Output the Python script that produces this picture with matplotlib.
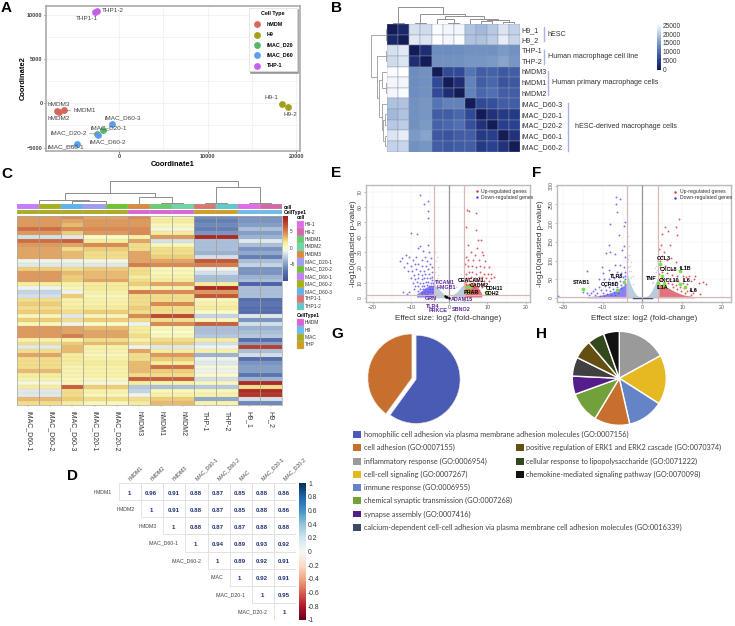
import matplotlib
matplotlib.use("Agg")
import matplotlib.pyplot as plt
import numpy as np
from matplotlib.cm import ScalarMappable
from matplotlib.colors import LinearSegmentedColormap, Normalize
from matplotlib.patches import Rectangle

plt.rcParams["font.family"] = ["Liberation Sans", "DejaVu Sans"]

W, H = 735, 626

# --- panel A
mds_names = ["THP1-1", "THP1-2", "hMDM3", "hMDM2", "hMDM1", "H9-1", "H9-2", "iMAC_D60-3",
             "iMAC_D20-1", "iMAC_D60-2", "iMAC_D20-2", "iMAC_D60-1"]
mds_x = [-2650, -2500, -6955, -6800, -6165, 18380, 19060, -750, -1800, -2330, -2480, -4700]
mds_y = [10250, 10350, -865, -980, -790, -40, -450, -2290, -3045, -3570, -3460, -4620]
mds_type = ["THP-1", "THP-1", "hMDM", "hMDM", "hMDM", "H9", "H9", "iMAC_D60", "iMAC_D20",
            "iMAC_D60", "iMAC_D20", "iMAC_D60"]
mds_label_x = [-3650, -714, -6800, -6800, -3870, 17220, 19290, 410, -1130, -1200, -5710, -5980]
mds_label_y = [9510, 10490, -150, -1690, -790, 600, -1240, -1690, -2780, -4290, -3310, -4920]
type_names = ["hMDM", "H9", "iMAC_D20", "iMAC_D60", "THP-1"]
type_colors = ["#d9675d", "#a3a017", "#57b76a", "#5b9ff0", "#c95ff0"]

# --- panel B
dist_labels = ["H9_1", "H9_2", "THP-1", "THP-2", "hMDM3", "hMDM1", "hMDM2", "iMAC_D60-3",
               "iMAC_D20-1", "iMAC_D20-2", "iMAC_D60-1", "iMAC_D60-2"]
dist_upper = [
    [0, 1500, 21500, 21000, 24500, 24000, 24000, 18500, 17500, 19000, 22000, 20000],
    [0, 22500, 22000, 25000, 24000, 24500, 18500, 18500, 19500, 23000, 20500],
    [0, 2500, 13000, 13000, 13000, 13500, 13500, 13500, 14500, 13500],
    [0, 13500, 13500, 13500, 14000, 14000, 14500, 15500, 14000],
    [0, 6000, 6000, 10500, 8000, 8500, 7500, 8000],
    [0, 2500, 12000, 8000, 9000, 7000, 7500],
    [0, 12000, 9000, 10000, 8000, 8000],
    [0, 6000, 6500, 8000, 8000],
    [0, 3000, 4000, 4000],
    [0, 4500, 5000],
    [0, 3000],
    [0],
]
# each merge: left pos, left height, right pos, right height, merge height
dist_tree = [
    (0.5, 0, 1.5, 0, 4), (2.5, 0, 3.5, 0, 4), (5.5, 0, 6.5, 0, 4), (4.5, 0, 6.0, 4, 15),
    (8.5, 0, 9.5, 0, 8), (10.5, 0, 11.5, 0, 6), (9.0, 8, 11.0, 6, 12), (7.5, 0, 10.0, 12, 15),
    (5.25, 15, 8.75, 15, 24), (3.0, 4, 7.0, 24, 30), (1.0, 4, 5.0, 30, 50),
]

# --- panel C, one value per column group
heat_cols = ["iMAC_D60-1", "iMAC_D60-2", "iMAC_D60-3", "iMAC_D20-1", "iMAC_D20-2", "hMDM3",
             "hMDM1", "hMDM2", "THP-1", "THP-2", "H9_1", "H9_2"]
heat_group_sizes = [2, 1, 2, 1, 2, 2, 2]
heat_rows = [
    [4, 4.5, 3.5, 4.5, 1, -6, -5.5], [4, 3.5, 4, 4, 1.5, -6.5, -5.5], [4, 3, 4, 4, 0.5, -6, -5],
    [5.5, 4.5, 4.5, 4.5, -0.5, -6.5, -3.5], [4, 2.5, 4, 4.5, 1.5, -5.5, -5],
    [-2, -1.5, 0, 1, 4, 8.5, -4], [5.5, 6, 1.5, 3.5, -2, -3.5, -1.5],
    [4, 3.5, 4.5, 2, 0.5, -3.5, -3.5], [3.5, 2, 2.5, 2, 2, -3.5, -5.5],
    [3.5, 3, 2, 3.5, 2, -4, -4.5], [3.5, 3, 2, 3.5, 2.5, -2, -6.5],
    [-1, -1, -0.5, 3.5, 3.5, 6.5, -3.5], [-1.5, -1.5, -1.5, 5, 4.5, 5, -2.5],
    [2.5, 2, 2.5, 2, 0.5, -1, -5.5], [4, 3, 3, 2, 0.5, -2, -5.5],
    [4, 2.5, 3, 1.5, 1, -3.5, -4], [4, 2.5, 3.5, 2, 1.5, -3.5, -3.5],
    [1.5, 1, 1.5, 2.5, 3.5, 1.5, -8.5], [-1, 0.5, 1.5, 1, 1, 8.5, -3.5],
    [-2.5, -1, 1, 5, 4.5, 4, -3.5], [-2, 2.5, 0.5, 2, 2, 6.5, -3.5],
    [2, 1, 1, 2, 2, 0.5, -7.5], [2.5, 1, 1, 2, 4.5, 1, -7], [2, 1.5, 1.5, 2.5, 2, 1.5, -7.5],
    [2.5, 2, 2.5, 2, 2, 0, -7.5], [0.5, -1.5, 0.5, 4.5, 7, -2.5, -1.5],
    [2.5, 2, 2.5, 2, 2, 0.5, -5.5], [0.5, -1, 0, -1, 4.5, 6, -2],
    [4, 3.5, 3, 1.5, 0.5, -3.5, -4], [4, 3.5, 3.5, 1.5, 0, -3.5, -3.5],
    [4, 5, 3.5, 2, 0.5, -3, -3], [1, 1, 2, 1, 2, 1.5, -7.5], [2, 2.5, 3, 2, 2.5, -2, -5],
    [-1.5, 3, 1, -1, -1.5, -1, 7.5], [2, 3, 1, 3.5, 1.5, 1, -3.5], [3.5, 1.5, 0.5, 2, 4, -4, -2],
    [2, 1.5, 1, 2, 2.5, -1, -7.5], [2, 1.5, 1.5, 3, 1.5, -1.5, -5.5],
    [2, 0.8, 1, 3, 5.5, -0.5, -5], [3, 0.8, 1, 3, 2.5, -1, -5], [1.5, 0.8, 1, 2, 2, 0, -7],
    [1, 0.5, 0.5, 6, 6, -2, -4], [-0.5, 0.5, -0.5, 1.5, 1, 0.5, 8.5], [1.5, 6, 2.5, -3, -3.5, -3, 2],
    [-1.5, 2, 1, -2.5, 0.5, 0.5, 8.5], [-1.5, 2, 0.5, -1, 1, 1, 8], [3, 2.5, 2, 2, 2.5, -4.5, -2],
    [2, 1.5, 0.5, 1.5, 3, 1, -6],
]
cell_colors = ["#c77cff", "#a3b218", "#5fb2f2", "#a09cf5", "#6cc530", "#d98a3c",
               "#68cc70", "#6fd6a8", "#d9766f", "#60c9cc", "#e36bea", "#d666a8"]
celltype_colors = ["#adac1c"] * 5 + ["#e060d8"] * 3 + ["#cf9f1e"] * 2 + ["#68bef0"] * 2
heat_tree = [
    (0.5, 0, 1.5, 0, 2), (3.5, 0, 4.5, 0, 2), (2.5, 0, 4.0, 2, 10), (1.0, 2, 3.25, 10, 14),
    (6.5, 0, 7.5, 0, 3), (5.5, 0, 7.0, 3, 21), (2.14, 14, 6.25, 21, 33),
    (8.5, 0, 9.5, 0, 3), (10.5, 0, 11.5, 0, 3), (9.0, 3, 11.0, 3, 51), (4.18, 33, 10.0, 51, 69),
]
cell_legend = ["H9-1", "H9-2", "hMDM1", "hMDM2", "hMDM3", "iMAC_D20-1", "iMAC_D20-2",
               "iMAC_D60-1", "iMAC_D60-2", "iMAC_D60-3", "THP1-1", "THP1-2"]
cell_legend_colors = ["#e36bea", "#d666a8", "#68cc70", "#6fd6a8", "#d98a3c", "#a09cf5",
                      "#6cc530", "#c77cff", "#a3b218", "#5fb2f2", "#d9766f", "#60c9cc"]
celltype_legend = ["hMDM", "H9", "iMAC", "THP"]
celltype_legend_colors = ["#e060d8", "#68bef0", "#adac1c", "#cf9f1e"]

# --- panel D
corr_labels = ["hMDM1", "hMDM2", "hMDM3", "iMAC_D60-1", "iMAC_D60-2", "iMAC", "iMAC_D20-1", "iMAC_D20-2"]
corr_upper = [
    [1, 0.96, 0.91, 0.88, 0.87, 0.85, 0.88, 0.86],
    [1, 0.91, 0.88, 0.87, 0.85, 0.88, 0.86],
    [1, 0.88, 0.87, 0.87, 0.88, 0.88],
    [1, 0.94, 0.89, 0.93, 0.92],
    [1, 0.89, 0.92, 0.91],
    [1, 0.92, 0.91],
    [1, 0.95],
    [1],
]

# --- panel E
e_down = [(-7.6, 68), (-5.5, 64), (-6.5, 62), (-5.5, 57), (-5.6, 53), (-10, 43), (-8.5, 42), (-7.6, 34),
          (-5.5, 35), (-8, 33), (-6.8, 31), (-5.2, 30), (-11.3, 28), (-12.2, 26), (-10.5, 27), (-12.8, 24),
          (-9.5, 25), (-8.7, 27), (-7.2, 25), (-6.4, 27), (-5.8, 24), (-4.8, 26), (-11, 23), (-10, 21),
          (-9, 22), (-8, 22), (-7, 21), (-6, 21), (-5, 22), (-4.5, 20), (-11.8, 20), (-10.7, 18), (-9.6, 18),
          (-8.6, 19), (-7.5, 18), (-6.6, 18), (-5.5, 19), (-4.6, 17), (-9.2, 15), (-8.1, 16), (-7.2, 15),
          (-6.2, 15.5), (-5.3, 16), (-4.4, 14), (-10, 13), (-9, 12.5), (-8, 13), (-7, 12.5), (-6.5, 13),
          (-5.7, 13), (-5, 13), (-4.5, 11.5), (-9.5, 10), (-8.5, 10.5), (-7.6, 10), (-6.9, 10), (-6.1, 10.5),
          (-5.4, 10.5), (-4.8, 10), (-4.3, 9.5), (-8.8, 8), (-8, 8), (-7.2, 8), (-6.5, 8), (-5.9, 8.3),
          (-5.2, 8), (-4.7, 7.5), (-4.2, 7.5), (-12, 3.5), (-10.5, 3.8), (-11, 2.5), (-9.2, 6), (-7.6, 6),
          (-6.9, 6), (-6.2, 6), (-5.6, 6), (-5, 6), (-4.5, 5.5), (-4.1, 5.5), (-8, 4.5), (-7.2, 4), (-6.6, 4),
          (-6, 4.2), (-5.5, 4), (-5, 4.2), (-4.6, 3.8), (-4.2, 3.8), (-7, 2.5), (-6.4, 2.5), (-5.8, 2.6)]
e_up = [(4.7, 58), (5.2, 57), (6.9, 56), (4.3, 47), (6.9, 44.7), (7.6, 38), (8.2, 38), (5, 35), (7.2, 33),
        (8.9, 28), (8.5, 30), (5.8, 30), (6.7, 28), (4.4, 27), (9.3, 24), (7.8, 25), (6.1, 25), (5, 25),
        (10.5, 20), (9.2, 20), (8, 21), (7, 20), (6, 21), (4.8, 21), (4.2, 22), (11, 16), (10.2, 15.5),
        (9, 16), (8, 17), (7, 16), (6, 17), (5.2, 17), (4.4, 16), (11.7, 14), (10.8, 13), (9.7, 13),
        (8.6, 13.5), (7.7, 14), (6.7, 13), (5.8, 13.5), (5, 13), (4.3, 13), (10.3, 11), (9.2, 11), (8.2, 11),
        (7.2, 11), (6.3, 11), (5.5, 11), (4.7, 11), (4.2, 10.5), (8.8, 9), (7.8, 9), (6.8, 9), (6, 9),
        (5.2, 9), (4.5, 9), (9.5, 7.5), (8.5, 7), (7.4, 7), (6.5, 7.3), (5.7, 7), (5, 7), (4.3, 7), (7.9, 5.3),
        (7, 5.3), (6.2, 5.3), (5.4, 5.3), (4.8, 5.3), (4.2, 5), (7.5, 3.7), (6.7, 3.7), (5.9, 3.7), (5.2, 3.7),
        (4.6, 3.7), (4.1, 3.5), (7, 2.4), (6.3, 2.4), (5.6, 2.4), (5, 2.4), (4.4, 2.4)]
e_ns = [(-3.8, 30), (-3.5, 24), (-3, 20), (-3.8, 17), (-2.8, 15), (-3.3, 13), (-2.2, 11), (-3.6, 11),
        (3.8, 20), (3.2, 16), (2.6, 13), (3.5, 12), (-1.5, 6), (1.7, 7), (-3.9, 42), (-3.2, 27)]
e_ns_x = [-4, -3.2, -2.4, -1.6, -0.8, 0, 0.8, 1.6, 2.4, 3.2, 4]
e_ns_top = [9, 7.5, 5, 3, 1.2, 0.3, 1.2, 3, 5, 7.5, 9]
e_down_band_x = [-8.5, -7, -6, -5, -4.1]
e_down_top = [2.5, 5, 7, 8, 8]
e_up_band_x = [4.1, 5, 6, 7, 8.5]
e_up_top = [9, 9, 9, 8, 3]
e_hits = [(4.7, 7.3), (5.4, 6.8), (9.7, 4), (4.7, 3.5)]
e_dark = [(-1.1, 1.1), (-0.9, 0.7), (-0.5, 0.3), (0, 0)]
e_black_genes = ["CEACAM1", "CADM2", "CDH11", "CDH2", "PHAR"]
e_black_x = [5.7, 7.8, 11.7, 11.3, 5.7]
e_black_y = [11.7, 7.9, 6.2, 2.6, 3.7]
e_purple_genes = ["TICAM1", "HMGB1", "GRN", "TLR4", "PRKCE", "SBNO2", "ADAM15"]
e_purple_x = [-1.1, -0.7, -4.9, -4.2, -2.8, 3.2, 3.4]
e_purple_y = [10.1, 6.8, -0.4, -5.7, -8.4, -7.7, -0.9]

# --- panel F
f_down = [(-6.6, 270), (-5.6, 264), (-6.6, 250), (-6.3, 230), (-4.4, 204), (-4.6, 192), (-8.2, 199), (-6, 168),
          (-8.4, 141), (-8.2, 122), (-9.2, 120), (-7, 118), (-4.6, 140), (-5.2, 127), (-4.4, 110), (-10.2, 82),
          (-13.9, 72), (-10, 66), (-8.5, 75), (-6.8, 88), (-5.6, 88), (-4.6, 84), (-7.7, 65), (-6.5, 70),
          (-5.4, 66), (-4.4, 70), (-11, 52), (-9.7, 50), (-8.5, 52), (-7.2, 54), (-6, 55), (-5, 55), (-4.3, 52),
          (-21.2, 6), (-15, 16), (-14, 14), (-13, 12), (-12.5, 18), (-12, 24), (-11.5, 14), (-11, 30),
          (-10.5, 20), (-10, 12), (-9.5, 33), (-9.3, 22), (-9, 10), (-8.8, 42), (-8.5, 28), (-8.2, 18), (-8, 9),
          (-7.6, 38), (-7.5, 25), (-7.2, 15), (-7, 7), (-6.7, 42), (-6.5, 30), (-6.3, 20), (-6.1, 12), (-5.7, 45),
          (-5.5, 35), (-5.3, 26), (-4.6, 45), (-4.5, 38), (-4.5, 58), (-13.5, 8), (-12, 7), (-10.8, 6), (-9.8, 5)]
f_up = [(9.1, 211), (8.4, 190), (8.7, 168), (5.7, 190), (5, 172), (6.5, 178), (4.6, 141), (6.9, 141), (5.4, 122),
        (4.8, 112), (4.2, 132), (7.2, 108), (6.2, 101), (8.5, 96), (4.5, 100), (10.7, 85), (9.5, 82), (7.5, 78),
        (5.8, 85), (4.3, 82), (13.2, 60), (11.8, 58), (13, 50), (15.3, 42), (16, 37), (14.2, 40), (12.3, 46),
        (11, 55), (10.2, 60), (8.8, 58), (7.4, 62), (6.2, 66), (5, 70), (4.2, 64), (11.2, 36), (10.2, 40),
        (9, 46), (8, 48), (7, 50), (6, 52), (5, 50), (4.3, 48), (12, 22), (13.3, 24), (11.2, 18), (10.4, 26),
        (9.4, 30), (8.4, 34), (7.4, 38), (6.4, 40), (5.4, 42), (12.8, 14), (10.8, 12), (9.8, 18), (8.8, 24),
        (7.8, 28), (14.5, 10), (12.2, 9)]
f_ns = [(-3.6, 165), (-3.4, 140), (-3.8, 130), (-3, 95), (-3.5, 115), (-2.5, 60), (-3.2, 85), (3.6, 100),
        (3.2, 80), (3.8, 90), (2.8, 55), (3.4, 70), (-2.8, 72), (2.4, 40), (-3.9, 150), (-3.7, 105),
        (-3.8, 95), (-3.3, 72), (-2.9, 55), (-2.3, 38), (-3.6, 82), (3.7, 74), (3.1, 58), (2.6, 42), (3.5, 85)]
f_ns_x = [-4, -3.2, -2.4, -1.6, -0.8, 0, 0.8, 1.6, 2.4, 3.2, 4]
f_ns_top = [72, 42, 22, 9, 2.5, 1, 2.5, 8, 20, 38, 58]
f_down_band_x = [-14, -11, -9, -7, -5.5, -4.1]
f_down_top = [3, 6, 11, 18, 28, 38]
f_up_band_x = [4.1, 6, 8, 10, 13]
f_up_top = [38, 30, 18, 9, 3]
f_hits = [(-15.1, 24), (-6.5, 20), (-4.6, 42), (4, 39), (4.4, 92), (5, 59), (9.4, 73), (5.3, 37), (9.4, 38),
          (10.7, 30), (5.5, 34)]
f_genes = ["STAB1", "CCR5D", "TLR8", "TNF", "CCL3", "CXCL8", "IL1B", "CXCL10", "IL6", "IL1A", "IL6"]
f_gene_x = [-15.4, -8.2, -6.5, 2.3, 5.4, 6.5, 10.8, 6.6, 11.2, 5, 12.8]
f_gene_y = [42, 35, 58, 52, 106, 76, 80, 48, 47, 27, 21]

# --- panels G, H
g_shares = [60, 40]
g_colors = ["#4a5bb5", "#c76f2e"]
h_shares = [17, 17, 12.4, 12.2, 10.8, 6.3, 6.5, 6.5, 5.8, 5.4]
h_colors = ["#9a9a9a", "#e6b822", "#6584c8", "#c76f2e", "#72a03a", "#551d8c", "#404040", "#654e12", "#33491d", "#111111"]
go_left = ["homophilic cell adhesion via plasma membrane adhesion molecules (GO:0007156)",
           "cell adhesion (GO:0007155)", "inflammatory response (GO:0006954)", "cell-cell signaling (GO:0007267)",
           "immune response (GO:0006955)", "chemical synaptic transmission (GO:0007268)",
           "synapse assembly (GO:0007416)",
           "calcium-dependent cell-cell adhesion via plasma membrane cell adhesion molecules (GO:0016339)"]
go_left_colors = ["#4a5bb5", "#c76f2e", "#9a9a9a", "#e6b822", "#6584c8", "#72a03a", "#551d8c", "#3c4a66"]
go_right = ["positive regulation of ERK1 and ERK2 cascade (GO:0070374)",
            "cellular response to lipopolysaccharide (GO:0071222)",
            "chemokine-mediated signaling pathway (GO:0070098)"]
go_right_colors = ["#654e12", "#33491d", "#111111"]


def px_axes(x0, y0, x1, y1):
    return fig.add_axes([x0 / W, 1 - y1 / H, (x1 - x0) / W, (y1 - y0) / H])


def draw_tree(ax, merges, color, sideways=False):
    for p0, h0, p1, h1, top in merges:
        xs, ys = [p0, p0, p1, p1], [h0, top, top, h1]
        if sideways:
            xs, ys = ys, xs
        ax.plot(xs, ys, color=color, lw=0.7, solid_joinstyle="miter")
    ax.axis("off")


def style_volcano(ax, xlim, ylim, yticks, ylabel_x):
    ax.set_xlim(xlim)
    ax.set_ylim(ylim)
    ax.set_xticks([-20, -10, 0, 10, 20])
    ax.set_yticks(yticks)
    ax.tick_params(labelsize=3.8, length=1.2, width=0.4, color="#888888", labelcolor="#555555", pad=1)
    for lab in ax.get_yticklabels():
        lab.set_rotation(90)
        lab.set_va("center")
    ax.set_xticks([-15, -5, 5, 15], minor=True)
    ax.tick_params(which="minor", length=0)
    ax.grid(True, which="both", color="#eeeeee", lw=0.35)
    ax.set_axisbelow(True)
    for s in ax.spines.values():
        s.set_color("#bbbbbb")
        s.set_linewidth(1)
    ax.set_xlabel("Effect size: log2 (fold-change)", fontsize=5.8, color="#333333")
    ax.set_ylabel("-log10(adjusted p-value)", fontsize=5.8, color="#333333")
    ax.xaxis.set_label_coords(0.5, -0.115)
    ax.yaxis.set_label_coords(ylabel_x, 0.5)


def draw_volcano(ax, cut_y, ns_x, ns_top, ns, down_x, down_top, up_x, up_top, down, up, hits):
    ax.fill_between(ns_x, 0, ns_top, color="#b7cde2", lw=0, zorder=2)
    pts = np.array(ns).T
    ax.scatter(pts[0], pts[1], s=1.2, color="#c3d5e8", lw=0, zorder=2)
    ax.fill_between(down_x, 0.5, down_top, color="#4a3ff0", alpha=0.65, lw=0, zorder=2)
    ax.fill_between(up_x, 0.5, up_top, color="#cf2a36", alpha=0.65, lw=0, zorder=2)
    pts = np.array(down).T
    ax.scatter(pts[0], pts[1], s=1.9, color="#5a4ff0", alpha=0.8, lw=0, zorder=3)
    pts = np.array(up).T
    ax.scatter(pts[0], pts[1], s=1.9, color="#d8323e", alpha=0.8, lw=0, zorder=3)
    ax.axvline(-4, color="#d9b8b8", lw=0.9, zorder=4)
    ax.axvline(4, color="#d9b8b8", lw=0.9, zorder=4)
    ax.axvline(0, color="#999999", lw=0.9, zorder=4)
    ax.axhline(cut_y, color="#d9b8b8", lw=0.9, zorder=4)
    pts = np.array(hits).T
    ax.scatter(pts[0], pts[1], s=7, color="#6fe83a", lw=0, zorder=5)


def volcano_legend(ax, x_dot, x_text, y_up, y_down):
    ax.scatter([x_dot], [y_up], s=3, color="#d8323e", lw=0, zorder=6)
    ax.scatter([x_dot], [y_down], s=3, color="#3f33ee", lw=0, zorder=6)
    ax.text(x_text, y_up, "Up-regulated genes", fontsize=3.7, va="center", color="#333333", zorder=6, clip_on=False)
    ax.text(x_text, y_down, "Down-regulated genes", fontsize=3.7, va="center", color="#333333", zorder=6, clip_on=False)


fig = plt.figure(figsize=(W / 100, H / 100), dpi=100, facecolor="white")

# A: MDS scatter
ax = px_axes(46, 5.7, 299.5, 150.7)
ax.set_xlim(-8230, 20350)
ax.set_ylim(-5340, 11000)
ax.set_xticks([0, 10000, 20000])
ax.set_yticks([-5000, 0, 5000, 10000])
ax.set_xticks([5000, 15000], minor=True)
ax.set_yticks([-2500, 2500, 7500], minor=True)
ax.grid(True, which="both", color="#efefef", lw=0.5)
ax.set_axisbelow(True)
ax.tick_params(labelsize=4, length=1.5, width=0.4, pad=1, labelcolor="#444444")
ax.tick_params(which="minor", length=0)
for lab in ax.get_xticklabels() + ax.get_yticklabels():
    lab.set_fontweight("bold")
for s in ax.spines.values():
    s.set_color("#aaaaaa")
    s.set_linewidth(1.2)
for name, color in zip(type_names, type_colors):
    sel = [i for i, t in enumerate(mds_type) if t == name]
    ax.scatter([mds_x[i] for i in sel], [mds_y[i] for i in sel], s=24, color=color, lw=0, label=name, zorder=3)
for name, px, py, lx, ly in zip(mds_names, mds_x, mds_y, mds_label_x, mds_label_y):
    ax.annotate(name, xy=(px, py), xytext=(lx, ly), fontsize=4.6, color="#444444", ha="center", va="center",
                arrowprops=dict(arrowstyle="-", lw=0.35, color="#777777", shrinkA=0, shrinkB=0), zorder=4)
ax.set_xlabel("Coordinate1", fontsize=5.4, fontweight="bold", labelpad=1.5)
ax.set_ylabel("Coordinate2", fontsize=5.4, fontweight="bold")
ax.yaxis.set_label_coords(-0.075, 0.5)
leg = ax.legend(loc="upper right", bbox_to_anchor=(0.99, 0.985), title="Cell Type", borderaxespad=0,
                labelspacing=1.0, handletextpad=0.8, borderpad=0.6, fancybox=False, edgecolor="#dddddd",
                shadow={"color": "#999999", "alpha": 1, "ox": 0.8, "oy": -0.8},
                prop={"size": 3.9, "weight": "bold"}, title_fontproperties={"size": 3.9, "weight": "bold"})
leg.get_frame().set_linewidth(0.5)

# B: distance heatmap with dendrograms
dist = np.zeros((12, 12))
for i, row in enumerate(dist_upper):
    dist[i, i:] = row
dist = dist + np.triu(dist, 1).T
dist_cmap = LinearSegmentedColormap.from_list(
    "dist", ["#141c58", "#2a4191", "#4f70b3", "#7f9fca", "#c3d2e8", "#ffffff"])
ax = px_axes(387.3, 24, 520, 151.7)
ax.pcolormesh(dist, cmap=dist_cmap, vmin=0, vmax=25000, edgecolors="#8a97ad", linewidth=0.3, antialiased=True)
ax.set_xlim(0, 12)
ax.set_ylim(12, 0)
ax.set_xticks([])
ax.yaxis.tick_right()
ax.set_yticks(np.arange(12) + 0.5, dist_labels, fontsize=5.1, color="#333333")
ax.tick_params(length=0, pad=1)
for s in ax.spines.values():
    s.set_visible(False)

ax = px_axes(387.3, 7, 520, 24)
ax.set_xlim(0, 12)
ax.set_ylim(0, 50.5)
draw_tree(ax, dist_tree, "#8f8f8f")
ax = px_axes(367.7, 24, 387.3, 151.7)
ax.set_xlim(59, 0)
ax.set_ylim(12, 0)
draw_tree(ax, dist_tree, "#a8a8a8", sideways=True)

cax = px_axes(657.3, 23.5, 660.7, 69.5)
cb = fig.colorbar(ScalarMappable(Normalize(0, 26000), dist_cmap), cax=cax, ticks=[0, 5000, 10000, 15000, 20000, 25000])
cb.outline.set_visible(False)
cb.ax.tick_params(labelsize=4.7, length=0, pad=1.5, labelcolor="#333333")

# C: expression heatmap
heat = np.repeat(np.array(heat_rows, dtype=float), heat_group_sizes, axis=1)
stops = [(-10, "#3f4f9f"), (-7, "#5a74b0"), (-4.5, "#8ea9cd"), (-2.5, "#c4d4e6"), (-1, "#eef3ee"), (0, "#fbfbc8"),
         (1.5, "#f6ec9c"), (2.5, "#eecf7a"), (3.5, "#e2a565"), (4.5, "#da8a52"), (6, "#c9613f"), (8.5, "#ad2b24"),
         (9.5, "#a02020")]
heat_cmap = LinearSegmentedColormap.from_list("heat", [((v + 10) / 19.5, c) for v, c in stops])
ax = px_axes(17.3, 215.5, 282, 404.5)
ax.pcolormesh(heat, cmap=heat_cmap, vmin=-10, vmax=9.5, edgecolors="none")
ax.set_xlim(0, 12)
ax.set_ylim(48, 0)
ax.vlines(np.arange(1, 12), 0, 48, color="#a3a097", lw=0.55)
ax.hlines(np.arange(1, 48), 0, 12, color="#b9b29f", lw=0.12)
ax.set_yticks([])
ax.set_xticks(np.arange(12) + 0.5, heat_cols, rotation=-90, fontsize=5, color="#333333")
ax.tick_params(axis="x", length=1.5, width=0.3, color="#999999", pad=3)
for s in ax.spines.values():
    s.set_color("#a8a8a8")
    s.set_linewidth(0.5)

ax = px_axes(17.3, 204.3, 282, 209)
ax.bar(np.arange(12) + 0.5, 1, width=1, color=cell_colors, edgecolor="#b0b0b0", linewidth=0.3)
ax.set_xlim(0, 12)
ax.set_ylim(0, 1)
ax.axis("off")
ax = px_axes(17.3, 210.3, 282, 214.3)
ax.bar(np.arange(12) + 0.5, 1, width=1, color=celltype_colors, edgecolor="#b0b0b0", linewidth=0.3)
ax.set_xlim(0, 12)
ax.set_ylim(0, 1)
ax.axis("off")
ax = px_axes(17.3, 180, 282, 204.3)
ax.set_xlim(0, 12)
ax.set_ylim(0, 73)
draw_tree(ax, heat_tree, "#8d8d8d")

cax = px_axes(283.3, 215.7, 288, 281)
cb = fig.colorbar(ScalarMappable(Normalize(-10, 9.5), heat_cmap), cax=cax, ticks=[-5, 0, 5])
cb.outline.set_visible(False)
cb.ax.tick_params(labelsize=3.3, length=0, pad=1, labelcolor="#333333")

# D: correlation triangle
corr_text = "#1f2f73"
ax = px_axes(119, 483.3, 296.3, 619.7)
ax.set_xlim(0, 8)
ax.set_ylim(8, 0)
ax.axis("off")
for i, row in enumerate(corr_upper):
    for k, val in enumerate(row):
        j = i + k
        ax.add_patch(Rectangle((j, i), 1, 1, fc="white", ec="#dedede", lw=0.6))
        txt = "1" if val == 1 else f"{val:.2f}"
        ax.text(j + 0.45, i + 0.58, txt, fontsize=4.4, fontweight="bold", color=corr_text, ha="center", va="center")
    ax.text(i - 0.3, i + 0.52, corr_labels[i], fontsize=3.8, color="#444444", ha="right", va="center")
    ax.text(i + 0.55, -0.12, corr_labels[i], fontsize=3.8, color="#444444", rotation=45, ha="left", va="bottom",
            rotation_mode="anchor", clip_on=False)
cax = px_axes(299.3, 483.3, 306, 620)
cb = fig.colorbar(ScalarMappable(Normalize(-1, 1), "RdBu"), cax=cax, ticks=np.arange(-1, 1.01, 0.2))
cb.ax.set_yticklabels(["-1", "-0.8", "-0.6", "-0.4", "-0.2", "0", "0.2", "0.4", "0.6", "0.8", "1"])
cb.outline.set_visible(False)
cb.ax.tick_params(labelsize=4.9, length=0, pad=1.5, labelcolor="#333333")

# E: volcano
ax = px_axes(366, 185, 530, 301.7)
style_volcano(ax, (-21.7, 21.1), (-2.6, 74.5), [0, 10, 20, 30, 40, 50, 60, 70], -0.057)
draw_volcano(ax, 1.7, e_ns_x, e_ns_top, e_ns, e_down_band_x, e_down_top, e_up_band_x, e_up_top, e_down, e_up, e_hits)
pts = np.array(e_dark).T
ax.scatter(pts[0], pts[1], s=3, color="black", lw=0, zorder=5)
for name, x, y in zip(e_black_genes, e_black_x, e_black_y):
    ax.text(x, y, name, fontsize=3.9, fontweight="bold", ha="center", va="center", zorder=7, clip_on=False)
for name, x, y in zip(e_purple_genes, e_purple_x, e_purple_y):
    ax.text(x, y, name, fontsize=3.9, fontweight="bold", color="#5d2a9d", ha="center", va="center", zorder=7, clip_on=False)
volcano_legend(ax, 7.2, 8.2, 70.5, 66.5)

# F: volcano
ax = px_axes(556.7, 185, 731, 301.7)
style_volcano(ax, (-21.6, 22.3), (-10, 302), [0, 50, 100, 150, 200, 250, 300], -0.073)
draw_volcano(ax, 1.3, f_ns_x, f_ns_top, f_ns, f_down_band_x, f_down_top, f_up_band_x, f_up_top, f_down, f_up, f_hits)
ax.plot([-2.5, 2.5], [1, 1], color="#27407f", lw=1, zorder=3)
for name, x, y in zip(f_genes, f_gene_x, f_gene_y):
    ax.text(x, y, name, fontsize=3.9, fontweight="bold", ha="center", va="center", zorder=7)
volcano_legend(ax, 8.2, 9.5, 284, 268)

# G, H: pies
ax = px_axes(364, 328.7, 464, 428.7)
ax.pie(g_shares, colors=g_colors, startangle=90, counterclock=False, explode=[0.05, 0.05], radius=1,
       wedgeprops=dict(edgecolor="#f3e7dc", linewidth=0.4))
ax.set_xlim(-1.136, 1.136)
ax.set_ylim(-1.136, 1.136)
ax = px_axes(569.3, 328.3, 669.3, 428.3)
ax.pie(h_shares, colors=h_colors, startangle=90, counterclock=False, radius=1,
       wedgeprops=dict(edgecolor="white", linewidth=1))
ax.set_xlim(-1.064, 1.064)
ax.set_ylim(-1.064, 1.064)

# overlay in pixel coordinates for panel letters and side legends
over = fig.add_axes([0, 0, 1, 1], zorder=10)
over.set_xlim(0, W)
over.set_ylim(H, 0)
over.axis("off")

letters = ["A", "B", "C", "D", "E", "F", "G", "H"]
letter_x = [1, 331, 1, 67, 331, 532, 331, 536.5]
letter_y = [12.5, 11.5, 177.5, 480, 177, 177, 337.5, 337.5]
for name, x, y in zip(letters, letter_x, letter_y):
    over.text(x, y, name, fontsize=11, fontweight="bold", ha="left", va="baseline")

# B group brackets
bar_x = [544, 544, 548.3, 568.3]
bar_top = [26.7, 50, 70.7, 103.3]
bar_bottom = [40.7, 64, 95, 150.7]
group_names = ["hESC", "Human macrophage cell line", "Human primary macrophage cells", "hESC-derived macrophage cells"]
group_x = [547.7, 547.7, 551.7, 575]
group_y = [34, 57, 82.7, 127]
for x, t, b in zip(bar_x, bar_top, bar_bottom):
    over.plot([x, x], [t, b], color="#aab4e2", lw=1)
for name, x, y in zip(group_names, group_x, group_y):
    over.text(x, y, name, fontsize=5.1, color="#333333", va="center")

# C side legends
over.text(283.5, 207.5, "cell", fontsize=3.5, fontweight="bold", va="center")
over.text(283.5, 212.7, "CellType1", fontsize=3.5, fontweight="bold", va="center")
over.text(296.7, 217.5, "cell", fontsize=3.5, fontweight="bold", va="center")
for i, (name, color) in enumerate(zip(cell_legend, cell_legend_colors)):
    y0 = 221 + i * 7.43
    over.add_patch(Rectangle((296.7, y0), 7.3, 7.43, fc=color, ec="#bbbbbb", lw=0.25))
    over.text(305, y0 + 3.7, name, fontsize=3.5, color="#333333", va="center")
over.text(296.7, 315.7, "CellType1", fontsize=3.5, fontweight="bold", va="center")
for i, (name, color) in enumerate(zip(celltype_legend, celltype_legend_colors)):
    y0 = 319 + i * 7.43
    over.add_patch(Rectangle((296.7, y0), 7.3, 7.43, fc=color, ec="#bbbbbb", lw=0.25))
    over.text(305, y0 + 3.7, name, fontsize=3.5, color="#333333", va="center")

# GO legend
left_y = [434.3, 447.3, 461.3, 474.3, 487.3, 500.7, 514, 527.3]
right_y = [447.3, 461.3, 474.3]
for name, color, y in zip(go_left, go_left_colors, left_y):
    over.add_patch(Rectangle((353.3, y - 3.3), 7.4, 6.6, fc=color, ec="none"))
    over.text(363.7, y, name, fontsize=5.33, family=["Lato", "DejaVu Sans"], color="#404040", va="center")
for name, color, y in zip(go_right, go_right_colors, right_y):
    over.add_patch(Rectangle((516, y - 3.3), 8, 6.6, fc=color, ec="none"))
    over.text(525.7, y, name, fontsize=5.2, family=["Lato", "DejaVu Sans"], color="#404040", va="center")

fig.savefig("out.png", dpi=100)
